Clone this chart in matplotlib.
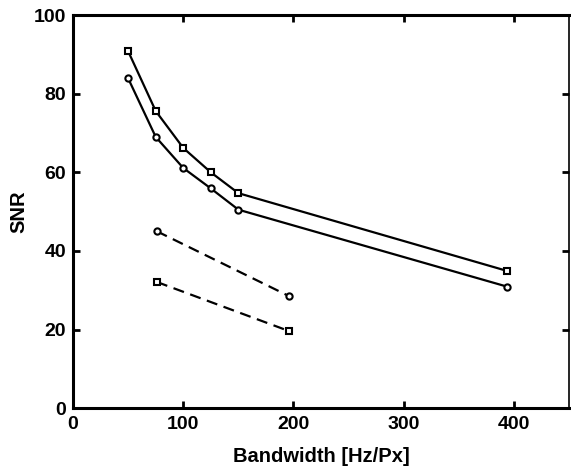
import matplotlib.pyplot as plt

# Datos
bw_solid = [50, 75, 100, 125, 150, 394]
snr_sq_solid = [90.8, 75.6, 66.2, 60.0, 54.7, 34.9]
snr_ci_solid = [83.9, 69.0, 61.1, 55.9, 50.5, 30.9]

bw_dash = [76, 196]
snr_ci_dash = [45.0, 28.5]
snr_sq_dash = [32.1, 19.6]

xticks = [0, 100, 200, 300, 400]
yticks = [0, 20, 40, 60, 80, 100]

plt.rcParams['font.family'] = ['Liberation Sans', 'DejaVu Sans']
plt.rcParams['font.weight'] = 'bold'

fig = plt.figure(figsize=(5.71, 4.74), dpi=100)
ax = fig.add_axes([0.128, 0.139, 0.8685, 0.829])

mk = dict(markerfacecolor='white', markeredgecolor='black', markeredgewidth=1.5, color='black')
ax.plot(bw_solid, snr_sq_solid, '-', marker='s', markersize=5, linewidth=1.6, **mk)
ax.plot(bw_solid, snr_ci_solid, '-', marker='o', markersize=4.5, linewidth=1.6, **mk)
ax.plot(bw_dash, snr_ci_dash, '--', marker='o', markersize=4.5, linewidth=1.6, dashes=(5, 3), **mk)
ax.plot(bw_dash, snr_sq_dash, '--', marker='s', markersize=5, linewidth=1.6, dashes=(5, 3), **mk)

ax.set_xlim(0, 450)
ax.set_ylim(0, 100)
ax.set_xticks(xticks)
ax.set_yticks(yticks)
ax.tick_params(direction='in', length=5, width=2, top=True, right=True, labelsize=14)
ax.tick_params(axis='x', pad=6)
ax.tick_params(axis='y', pad=5)
for s in ['left', 'bottom', 'top']:
    ax.spines[s].set_linewidth(2.2)
ax.spines['right'].set_linewidth(1.2)

ax.set_xlabel('Bandwidth [Hz/Px]', fontsize=14.5, fontweight='bold', labelpad=10)
ax.set_ylabel('SNR', fontsize=14.5, fontweight='bold', labelpad=4)

plt.savefig('out.png', dpi=100)
